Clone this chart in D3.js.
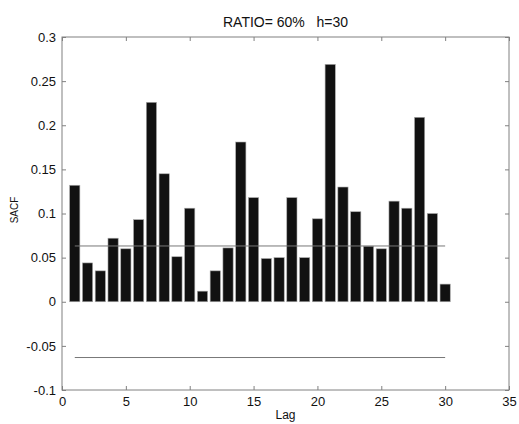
<!DOCTYPE html>
<html>
<head>
<meta charset="utf-8">
<script src="https://cdn.jsdelivr.net/npm/d3@7"></script>
<style>
  html, body { margin: 0; padding: 0; background: #fff; }
  svg text { font-family: "Liberation Sans", Arial, sans-serif; fill: #111; }
</style>
</head>
<body>
<div id="chart"></div>
<script>
// ---- data ----
const lags = d3.range(1, 31);
const sacf = [0.132, 0.044, 0.035, 0.072, 0.060, 0.093, 0.226, 0.145, 0.051, 0.106,
              0.012, 0.035, 0.061, 0.181, 0.118, 0.049, 0.050, 0.118, 0.050, 0.094,
              0.269, 0.130, 0.102, 0.063, 0.060, 0.114, 0.106, 0.209, 0.100, 0.020];
const bound = 0.0632;
const xTicks = [0, 5, 10, 15, 20, 25, 30, 35];
const yTicks = [-0.1, -0.05, 0, 0.05, 0.1, 0.15, 0.2, 0.25, 0.3];
const titleText = "RATIO= 60%\u00a0\u00a0\u00a0h=30";
const xLabel = "Lag";
const yLabel = "SACF";

// ---- layout ----
const W = 519, H = 424;
const mLeft = 62, mRight = 509, mTop = 37, mBottom = 390;

const svg = d3.select("#chart").append("svg").attr("width", W).attr("height", H);

const x = d3.scaleLinear().domain([0, 35]).range([mLeft, mRight]);
const y = d3.scaleLinear().domain([-0.1, 0.3]).range([mBottom, mTop]);
const axisColor = "#808080";

// bars
const bw = x(0.8) - x(0);
svg.append("g").selectAll("rect").data(lags).join("rect")
  .attr("x", d => x(d) - bw / 2)
  .attr("width", bw)
  .attr("y", (d, i) => y(Math.max(0, sacf[i])))
  .attr("height", (d, i) => Math.abs(y(sacf[i]) - y(0)))
  .attr("fill", "#111")
  .attr("stroke", "#aaa")
  .attr("stroke-width", 0.6);

// bound lines
[bound, -bound].forEach(b => {
  svg.append("line")
    .attr("x1", x(1)).attr("x2", x(30))
    .attr("y1", y(b)).attr("y2", y(b))
    .attr("stroke", "#777").attr("stroke-width", 1);
});

// axes (ticks inward, MATLAB style)
function styleAxis(g) {
  g.select(".domain").remove();
  g.selectAll(".tick line").attr("stroke", axisColor);
  g.selectAll(".tick text").attr("font-size", 13).attr("fill", "#111");
}
const fmt = d => String(Math.round(d * 100) / 100);

svg.append("g").attr("transform", `translate(0,${mBottom})`)
  .call(d3.axisBottom(x).tickValues(xTicks).tickSize(-4).tickPadding(7).tickFormat(d3.format("d")))
  .call(styleAxis);
svg.append("g").attr("transform", `translate(0,${mTop})`)
  .call(d3.axisTop(x).tickValues(xTicks).tickSize(-4).tickFormat(""))
  .call(styleAxis);
svg.append("g").attr("transform", `translate(${mLeft},0)`)
  .call(d3.axisLeft(y).tickValues(yTicks).tickSize(-4).tickPadding(6).tickFormat(fmt))
  .call(styleAxis);
svg.append("g").attr("transform", `translate(${mRight},0)`)
  .call(d3.axisRight(y).tickValues(yTicks).tickSize(-4).tickFormat(""))
  .call(styleAxis);

// box
svg.append("rect")
  .attr("x", mLeft).attr("y", mTop)
  .attr("width", mRight - mLeft).attr("height", mBottom - mTop)
  .attr("fill", "none").attr("stroke", axisColor).attr("stroke-width", 1);

// labels
svg.append("text").attr("x", (mLeft + mRight) / 2).attr("y", 27)
  .attr("text-anchor", "middle").attr("font-size", 14).text(titleText);
svg.append("text").attr("x", (mLeft + mRight) / 2).attr("y", 419)
  .attr("text-anchor", "middle").attr("font-size", 12).text(xLabel);
svg.append("text")
  .attr("transform", `translate(18,210) rotate(-90)`)
  .attr("text-anchor", "middle").attr("font-size", 10).text(yLabel);
</script>
</body>
</html>
